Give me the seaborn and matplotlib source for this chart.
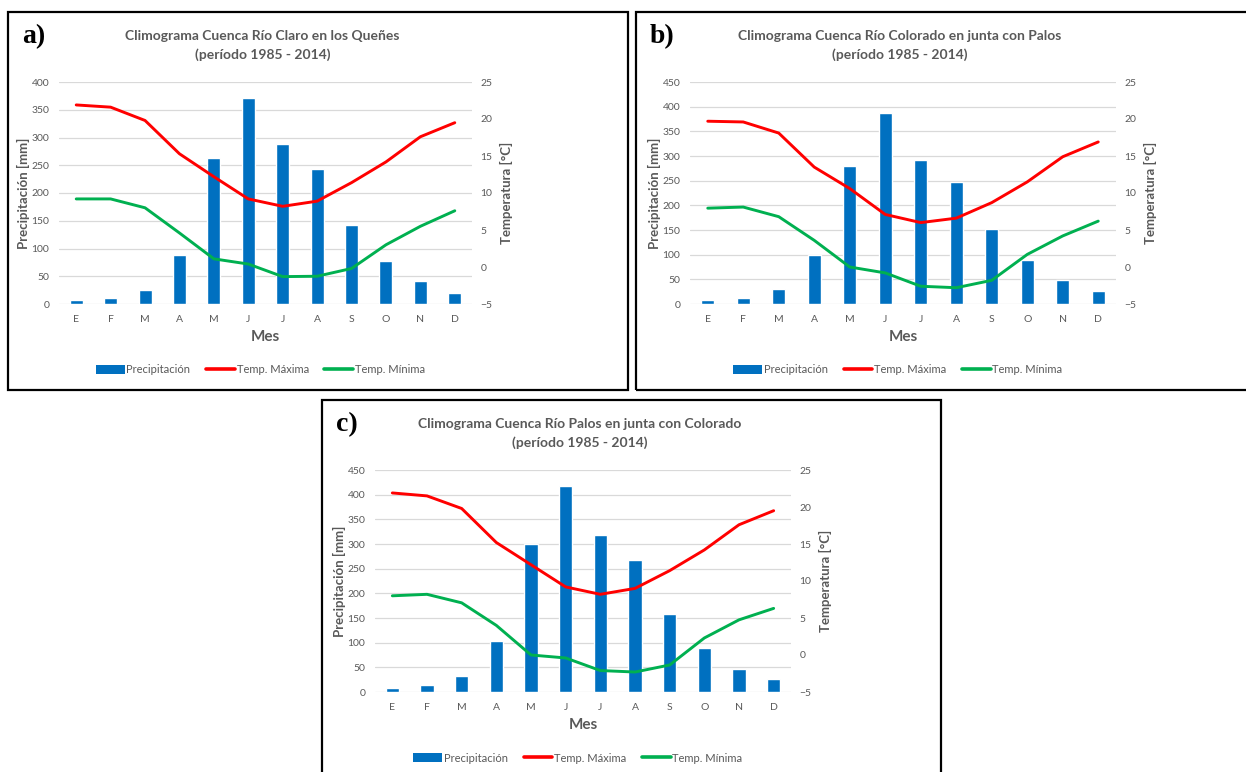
import numpy as np
import pandas as pd
import matplotlib
matplotlib.use("Agg")
import matplotlib.pyplot as plt
from matplotlib.patches import Rectangle, Patch
from matplotlib.lines import Line2D
import seaborn as sns

# ---------------------------------------------------------------- data
meses = ["E", "F", "M", "A", "M", "J", "J", "A", "S", "O", "N", "D"]

titulos = [
    "Climograma Cuenca Río Claro en los Queñes\n(período 1985 - 2014)",
    "Climograma Cuenca Río Colorado en junta con Palos\n(período 1985 - 2014)",
    "Climograma Cuenca Río Palos en junta con Colorado\n(período 1985 - 2014)",
]
letras = ["a)", "b)", "c)"]

pp_claro = [7, 11, 26, 88, 263, 372, 289, 243, 143, 77, 42, 20]
tmax_claro = [21.9, 21.6, 19.8, 15.3, 12.2, 9.2, 8.2, 8.9, 11.4, 14.2, 17.6, 19.5]
tmin_claro = [9.2, 9.2, 8.0, 4.6, 1.1, 0.4, -1.3, -1.25, -0.2, 3.0, 5.5, 7.6]

pp_colorado = [9, 13, 30, 100, 279, 388, 292, 247, 153, 89, 48, 26]
tmax_colorado = [19.7, 19.6, 18.1, 13.5, 10.6, 7.1, 6.0, 6.6, 8.7, 11.5, 14.9, 16.9]
tmin_colorado = [7.95, 8.1, 6.8, 3.6, 0.0, -0.8, -2.6, -2.8, -1.8, 1.7, 4.2, 6.2]

pp_palos = [9, 14, 32, 104, 300, 418, 319, 267, 158, 90, 47, 26]
tmax_palos = [21.9, 21.5, 19.8, 15.2, 12.2, 9.2, 8.2, 9.0, 11.4, 14.2, 17.6, 19.5]
tmin_palos = [8.0, 8.2, 7.05, 4.0, 0.0, -0.4, -2.1, -2.3, -1.35, 2.3, 4.75, 6.3]

pp_max = [400, 450, 450]
temp_ticks = [-5, 0, 5, 10, 15, 20, 25]

series = [
    (pp_claro, tmax_claro, tmin_claro),
    (pp_colorado, tmax_colorado, tmin_colorado),
    (pp_palos, tmax_palos, tmin_palos),
]

# ---------------------------------------------------------------- style
sns.set_theme(style="white")
plt.rcParams["font.family"] = ["Lato", "DejaVu Sans"]

AZUL = "#0070C0"
ROJO = "#FF0000"
VERDE = "#00B050"
GRIS = "#595959"
GRILLA = "#D9D9D9"

W, H = 1246, 772
fig = plt.figure(figsize=(W / 100, H / 100), dpi=100)
fig.patch.set_facecolor("white")


def fx(px):
    return px / W


def fy(py):
    return 1 - py / H


# panel frames (pixel boxes: left, top, right, bottom)
marcos = [(8, 12, 628, 390), (636, 12, 1252, 390), (322, 400, 941, 780)]
# plot areas (pixel: left, top, right, bottom)
areas = [(59, 82, 472, 304), (690, 82, 1116, 304), (375, 470, 791, 692)]
# vertical offsets of title, tick labels, x label and legend
offs_y = [0, 0, 388]

for i in range(3):
    pp, tmax, tmin = series[i]
    l, t, r, b = areas[i]
    oy = offs_y[i]

    ml, mt, mr, mb = marcos[i]
    fig.patches.append(Rectangle((fx(ml), fy(mb)), fx(mr) - fx(ml), fy(mt) - fy(mb),
                                 transform=fig.transFigure, fill=False,
                                 edgecolor="black", linewidth=1.6, zorder=0))

    ax = fig.add_axes([fx(l), fy(b), fx(r) - fx(l), fy(t) - fy(b)])
    df = pd.DataFrame({"idx": np.arange(12), "pp": pp, "tmax": tmax, "tmin": tmin})

    sns.barplot(data=df, x="idx", y="pp", color=AZUL, width=0.38,
                saturation=1, ax=ax, zorder=2)
    ax.set_xlim(-0.5, 11.5)
    ax.set_ylim(0, pp_max[i])
    ax.set_yticks(np.arange(0, pp_max[i] + 1, 50))
    ax.yaxis.grid(True, color=GRILLA, linewidth=0.9)
    ax.set_axisbelow(True)
    ax.set_xticks(np.arange(12))
    ax.set_xticklabels(meses)
    ax.tick_params(axis="x", length=0, pad=8, labelsize=7.5, labelcolor=GRIS)
    ax.tick_params(axis="y", length=0, pad=7, labelsize=7.5, labelcolor=GRIS)
    for s in ax.spines.values():
        s.set_visible(False)
    ax.set_xlabel("Mes", fontsize=11, fontweight="bold", color=GRIS, labelpad=4)
    ax.set_ylabel("Precipitación [mm]", fontsize=9.5, fontweight="bold", color=GRIS)
    ax.yaxis.set_label_coords(-29 / (r - l), 0.5)

    ax2 = ax.twinx()
    sns.lineplot(data=df, x="idx", y="tmax", color=ROJO, linewidth=2.1, ax=ax2)
    sns.lineplot(data=df, x="idx", y="tmin", color=VERDE, linewidth=2.1, ax=ax2)
    ax2.set_ylim(-5, 25)
    ax2.set_yticks(temp_ticks)
    ax2.set_xlim(-0.5, 11.5)
    ax2.tick_params(axis="y", length=0, pad=6, labelsize=7.5, labelcolor=GRIS)
    for s in ax2.spines.values():
        s.set_visible(False)
    ax2.grid(False)
    ax2.set_ylabel("Temperatura [°C]", fontsize=9.5, fontweight="bold", color=GRIS)
    ax2.yaxis.set_label_coords(1 + 28 / (r - l), 0.5)

    cx = (l + r) / 2
    fig.text(fx(cx - 3), fy(45.5 + oy), titulos[i], ha="center", va="center",
             fontsize=10, fontweight="bold", color=GRIS, linespacing=1.55)
    fig.text(fx(ml + 14), fy(37 + oy), letras[i], ha="left", va="center",
             fontsize=20, fontweight="bold", color="black",
             family=["Liberation Serif", "DejaVu Serif"])

    handles = [
        Patch(facecolor=AZUL, edgecolor="none"),
        Line2D([], [], color=ROJO, linewidth=2.6),
        Line2D([], [], color=VERDE, linewidth=2.6),
    ]
    fig.legend(handles, ["Precipitación", "Temp. Máxima", "Temp. Mínima"],
               loc="center", bbox_to_anchor=(fx(cx - 5), fy(370 + oy)),
               ncol=3, frameon=False, fontsize=8, labelcolor=GRIS,
               handlelength=2.6, handleheight=0.8, handletextpad=0.15,
               columnspacing=1.4)

fig.savefig("out.png", dpi=100, facecolor="white")
